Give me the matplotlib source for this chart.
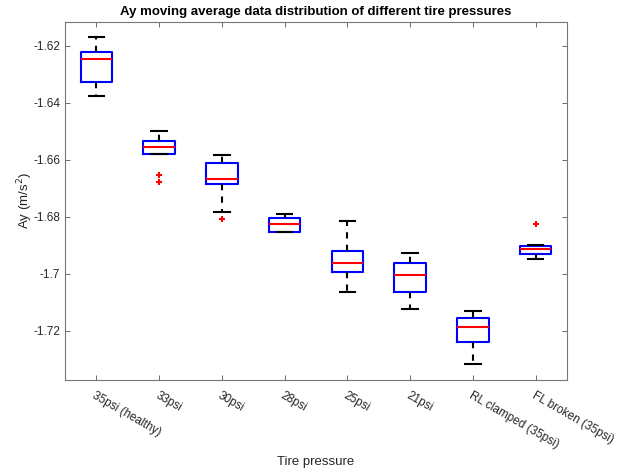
import matplotlib
matplotlib.use("Agg")
import matplotlib.pyplot as plt

plt.rcParams['font.family'] = ['Liberation Sans', 'DejaVu Sans']

labels = ["35psi (healthy)", "33psi", "30psi", "28psi", "25psi", "21psi",
          "RL clamped (35psi)", "FL broken (35psi)"]
med = [-1.6248, -1.6555, -1.6668, -1.6827, -1.6963, -1.7004, -1.7188, -1.6914]
q1 = [-1.6326, -1.6581, -1.6685, -1.6854, -1.6995, -1.7065, -1.7241, -1.6931]
q3 = [-1.6222, -1.6535, -1.6613, -1.6804, -1.6920, -1.6962, -1.7157, -1.6904]
whislo = [-1.6378, -1.6581, -1.6784, -1.6854, -1.7066, -1.7124, -1.7317, -1.6950]
whishi = [-1.6171, -1.6498, -1.6584, -1.6791, -1.6815, -1.6929, -1.7131, -1.6901]
fliers = [[], [-1.6654, -1.6677], [-1.6807], [], [], [], [], [-1.6826]]

stats = []
for i in range(len(labels)):
    stats.append({"med": med[i], "q1": q1[i], "q3": q3[i],
                  "whislo": whislo[i], "whishi": whishi[i],
                  "fliers": fliers[i], "label": labels[i]})

fig = plt.figure(figsize=(6.26, 4.72), dpi=100)
ax = fig.add_axes([0.1038, 0.1949, 0.8019, 0.7585])

ax.bxp(stats, widths=0.5, capwidths=0.25, showfliers=True,
       boxprops=dict(color="blue", linewidth=1.5),
       medianprops=dict(color="red", linewidth=1.5),
       whiskerprops=dict(color="black", linewidth=1.5, linestyle=(0, (3, 3))),
       capprops=dict(color="black", linewidth=1.5),
       flierprops=dict(marker="+", markeredgecolor="red", markersize=5,
                       markeredgewidth=1.5, linestyle="none"))

ax.set_xlim(0.5, 8.5)
ax.set_ylim(-1.7373, -1.6117)
ax.set_yticks([-1.62, -1.64, -1.66, -1.68, -1.70, -1.72])
ax.set_yticklabels(["-1.62", "-1.64", "-1.66", "-1.68", "-1.7", "-1.72"])
ax.set_xticks(range(1, 9))
ax.set_xticklabels(labels, rotation=-30, ha="left", rotation_mode="anchor")

ax.tick_params(direction="in", top=True, right=True, length=3.5, width=0.6,
               color="#555555", labelcolor="#262626", labelsize=8.5)
ax.tick_params(axis="x", pad=7)
for s in ax.spines.values():
    s.set_color("#777777")
    s.set_linewidth(0.8)

ax.set_title("Ay moving average data distribution of different tire pressures",
             fontsize=9.5, fontweight="bold", color="black", pad=5)
ax.set_ylabel("Ay (m/s$^2$)", fontsize=9.5, color="#262626", labelpad=-1)
ax.set_xlabel("Tire pressure", fontsize=9.5, color="#262626")
ax.xaxis.set_label_coords(0.5, -0.229)
ax.xaxis.label.set_va("center")

fig.savefig("out.png", dpi=100)
